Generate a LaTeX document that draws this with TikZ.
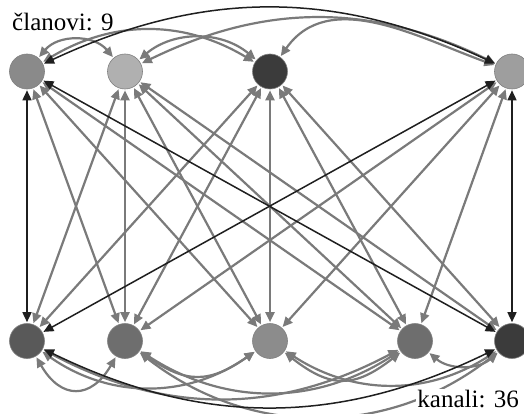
\documentclass[tikz,border=0pt]{standalone}
\usepackage{fontspec}
\setmainfont{Liberation Serif}
\usetikzlibrary{arrows.meta}
\begin{document}
\begin{tikzpicture}[x=1pt,y=1pt,
  member/.style={circle, minimum size=35pt, inner sep=0pt, draw=black!50, line width=0.6pt},
  link/.style={draw=black!52, line width=2.2pt,
    {Triangle[length=10pt,width=9pt]}-{Triangle[length=10pt,width=9pt]},
    shorten <=1pt, shorten >=1pt},
  strong/.style={draw=black!88, line width=1.5pt,
    {Triangle[length=10pt,width=9pt]}-{Triangle[length=10pt,width=9pt]},
    shorten <=1pt, shorten >=1pt},
  caption/.style={font=\fontsize{25}{27}\selectfont, inner sep=1pt}
]
\useasboundingbox (0,0) rectangle (524,413);
\fill[white] (0,0) rectangle (524,413);

% members
\node[member, fill=black!46] (A) at (27,341.5) {};
\node[member, fill=black!31] (B) at (125,341.5) {};
\node[member, fill=black!77] (C) at (270,341.5) {};
\node[member, fill=black!38] (D) at (512,341.5) {};
\node[member, fill=black!65] (E) at (27,72) {};
\node[member, fill=black!57] (F) at (125,72) {};
\node[member, fill=black!45] (G) at (270,72) {};
\node[member, fill=black!57] (H) at (415,72) {};
\node[member, fill=black!77] (I) at (512,72) {};

% straight channels (gray)
\foreach \s/\t in {A/F,A/G,A/H,B/E,B/F,B/G,B/H,B/I,C/E,C/F,C/G,C/H,C/I,D/F,D/G,D/H}
  \draw[link] (\s) -- (\t);

% top curves (gray)
\draw[link] (A) to[bend left=50, looseness=1.05] (B);
\draw[link] (A) to[bend left=31] (C);
\draw[link] (B) to[bend left=40] (C);
\draw[link] (B) to[bend left=26] (D);
\draw[link] (C) to[out=55, in=160, looseness=1] (D);

% bottom curves (gray)
\draw[link] (E) to[out=-60, in=-120, looseness=1.6] (F);
\draw[link] (E) to[bend right=35] (G);
\draw[link] (E) to[bend right=28] (H);
\draw[link] (F) to[bend right=35, looseness=1.25] (G);
\draw[link] (F) to[bend right=33] (H);
\draw[link] (F) to[bend right=38] (I);
\draw[link] (G) to[bend right=38, looseness=1.3] (H);
\draw[link] (G) to[bend right=33] (I);
\draw[link] (H) to[bend right=40] (I);

% outer channels (black)
\draw[strong] (A) -- (E);
\draw[strong] (A) -- (I);
\draw[strong] (D) -- (E);
\draw[strong] (D) -- (I);
\draw[strong] (A) to[bend left=25] (D);
\draw[strong] (E) to[bend right=26] (I);

% captions
\node[caption, anchor=base west] (lblm) at (11,382) {članovi: 9};
\node[caption, anchor=base east, fill=white] (lblk) at (520,6) {kanali: 36};
\end{tikzpicture}
\end{document}
